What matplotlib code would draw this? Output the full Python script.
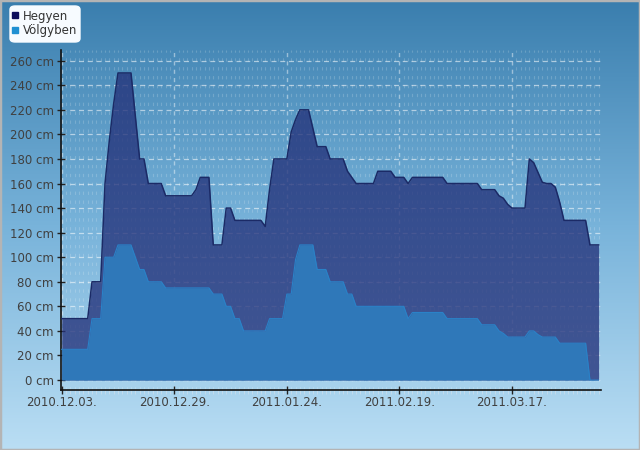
import numpy as np
import pandas as pd
import matplotlib
matplotlib.use("Agg")
import matplotlib.pyplot as plt
import matplotlib.dates as mdates
from matplotlib.lines import Line2D
from matplotlib.patches import FancyBboxPatch, Rectangle

start_date = "2010-12-03"
hegyen = ([50]*7 + [80]*3 + [160, 195, 225] + [250]*4 + [215] + [180]*2 + [160]*4 +
          [150]*7 + [155] + [165]*3 + [110]*3 + [140]*2 + [130]*7 + [125] + [155] +
          [180]*4 + [202, 212] + [220]*3 + [205] + [190]*3 + [180]*4 + [170, 165] +
          [160]*5 + [170]*4 + [165]*3 + [160] + [165]*8 + [160]*8 + [155]*4 +
          [150, 148, 143] + [140]*4 + [180, 177, 169, 161] + [160]*2 + [157, 145] +
          [130]*6 + [110]*3)
volgyben = ([25]*7 + [50]*3 + [100]*3 + [110]*4 + [100] + [90]*2 + [80]*4 + [75]*11 +
            [70]*3 + [60]*2 + [50]*2 + [40]*6 + [50]*4 + [70]*2 + [98] + [110]*4 +
            [90]*3 + [80]*4 + [70]*2 + [60]*12 + [50] + [55]*8 + [50]*8 + [45]*4 +
            [40, 38] + [35]*5 + [40]*2 + [37] + [35]*4 + [30]*7 + [0]*3)
series_names = ["Hegyen", "Völgyben"]
tick_dates = ["2010-12-03", "2010-12-29", "2011-01-24", "2011-02-19", "2011-03-17"]
y_ticks = list(range(0, 261, 20))

dates = pd.date_range(start_date, periods=len(hegyen), freq="D")
xnum = mdates.date2num(dates.to_pydatetime())

W, H = 640, 450
fig = plt.figure(figsize=(W/100, H/100), dpi=100)

# background gradient
bg = fig.add_axes([0, 0, 1, 1], zorder=-10)
bg.set_axis_off()
top = np.array([0x3a, 0x7e, 0xae]) / 255
mid = np.array([0x78, 0xb3, 0xda]) / 255
bot = np.array([0xba, 0xde, 0xf4]) / 255
t = np.linspace(0, 1, 256)[:, None]
grad = np.where(t < 0.5, top + (mid - top) * (t / 0.5), mid + (bot - mid) * ((t - 0.5) / 0.5))
bg.imshow(grad[:, None, :].repeat(2, axis=1), aspect="auto", extent=[0, 1, 0, 1])
bg.set_xlim(0, 1); bg.set_ylim(0, 1)
bg.add_patch(Rectangle((0, 0), 1, 1, transform=bg.transAxes, fill=False,
                       edgecolor="#b4b4b4", lw=2.5))

ax = fig.add_axes([60.5/W, 1-390/H, (601-60.5)/W, (390-50)/H])
ax.patch.set_alpha(0)

ax.fill_between(xnum, 0, hegyen, color="#24327a", alpha=0.78, lw=0, zorder=3)
ax.plot(xnum, hegyen, color="#1b2a66", lw=1.1, zorder=4)
ax.fill_between(xnum, 0, volgyben, color="#2f7abb", alpha=0.97, lw=0, zorder=5)
ax.plot(xnum, volgyben, color="#2a82c8", lw=0.8, zorder=6)

x0 = mdates.date2num(pd.Timestamp(start_date))
ax.set_xlim(x0 - 0.28, x0 + 124.55)
ax.set_ylim(-8.1, 268.7)

tick_nums = [mdates.date2num(pd.Timestamp(d)) for d in tick_dates]
ax.set_xticks(tick_nums)
ax.set_xticklabels([pd.Timestamp(d).strftime("%Y.%m.%d.") for d in tick_dates])
ax.set_xticks(xnum, minor=True)
ax.set_yticks(y_ticks)
ax.set_yticklabels([f"{v} cm" for v in y_ticks])

for s in ["top", "right"]:
    ax.spines[s].set_visible(False)
for s in ["left", "bottom"]:
    ax.spines[s].set_color("#111111")
    ax.spines[s].set_linewidth(1.2)

ax.tick_params(axis="both", which="major", direction="inout", length=6, width=1,
               color="#222222", labelcolor="#404040", labelsize=8.5)
ax.tick_params(axis="x", which="major", pad=1)
ax.tick_params(axis="y", which="major", pad=2)
ax.tick_params(axis="x", which="minor", direction="out", length=3, width=0.6,
               color="#c8dcec")

ax.grid(True, axis="y", which="major", color="white", alpha=0.55, ls=(0, (4, 3)), lw=0.9, zorder=1)
ax.grid(True, axis="x", which="major", color="white", alpha=0.45, ls=(0, (3, 3)), lw=1.0, zorder=1)
ax.grid(True, axis="x", which="minor", color="white", alpha=0.18, ls=(0, (3, 5)), lw=0.8, zorder=1)

# legend box
lg = FancyBboxPatch((10/W, 1-42/H), 70/W, 36/H, boxstyle="round,pad=0,rounding_size=0.008",
                    transform=fig.transFigure, facecolor="#f7fbff", edgecolor="#f7fbff", zorder=20)
fig.add_artist(lg)
handles = [Line2D([], [], marker="s", ls="", color="#0d0d5a", markersize=5),
           Line2D([], [], marker="s", ls="", color="#2090d2", markersize=5)]
leg = fig.legend(handles, series_names, loc="upper left", bbox_to_anchor=(8/W, 1-6/H),
                 frameon=False, fontsize=8.5, handlelength=0.6, handletextpad=0.4,
                 labelspacing=0.15, borderaxespad=0, borderpad=0.3, labelcolor="#333333")
leg.set_zorder(21)

fig.savefig("out.png", dpi=100)
